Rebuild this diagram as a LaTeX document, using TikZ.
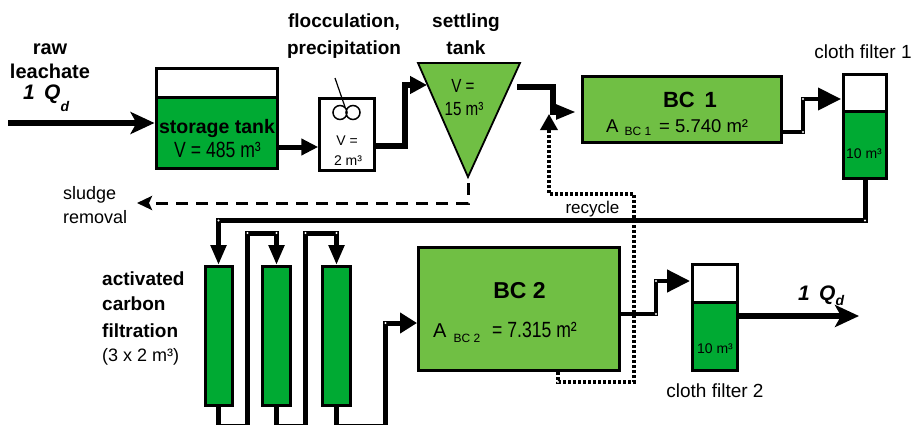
\documentclass[tikz,border=0pt]{standalone}
\usepackage{fontspec}
\setmainfont{Liberation Sans}
\newfontfamily\narrowf{Liberation Sans}[FakeStretch=0.8]
\usetikzlibrary{arrows.meta}
\definecolor{dgreen}{RGB}{0,170,51}
\definecolor{lgreen}{RGB}{112,191,68}
\newcommand{\fs}[1]{\fontsize{#1}{#1}\selectfont}
\begin{document}
\begin{tikzpicture}[x=1pt,y=-1pt,
  box/.style={draw, line width=3pt, inner sep=0pt},
  lbl/.style={inner sep=0pt, anchor=base},
  lblw/.style={inner sep=0pt, anchor=base west},
  pl/.style={line width=5.5pt},
  bigpipe/.style={line width=6pt, -{Stealth[length=24pt,width=22pt,inset=6pt]}},
  dotline/.style={line width=3.5pt, dash pattern=on 3pt off 2pt},
  jdot/.style={fill=white}]
\useasboundingbox (0,0) rectangle (912,425);

% ---------- boxes ----------
\node[box, fill=white, minimum width=121pt, minimum height=29pt] (storetop) at (216.5,83.5) {};
\node[box, fill=dgreen, minimum width=121pt, minimum height=70pt] (storebot) at (216.5,133) {};
\node[box, line width=2.5pt, fill=white, minimum width=55pt, minimum height=72pt] (floc) at (347,134.5) {};
\coordinate (settleTL) at (418,63);
\coordinate (settleTR) at (520,63);
\coordinate (settleB) at (468,177);
\coordinate (settleL) at (427,85);
\coordinate (settleR) at (517,87);
\draw[line width=1.8pt, fill=lgreen] (settleTL) -- (settleTR) -- (settleB) -- cycle;
\node[box, fill=lgreen, minimum width=199pt, minimum height=66pt] (bc1) at (682,109.5) {};
\node[box, fill=white, minimum width=43pt, minimum height=37.5pt] (cf1top) at (865,93.25) {};
\node[box, fill=dgreen, minimum width=43pt, minimum height=66.5pt] (cf1bot) at (865,145.25) {};
\node[box, fill=dgreen, minimum width=27pt, minimum height=139pt] (col1) at (218.5,336) {};
\node[box, fill=dgreen, minimum width=28pt, minimum height=139pt] (col2) at (276.5,336) {};
\node[box, fill=dgreen, minimum width=28pt, minimum height=139pt] (col3) at (336.5,336) {};
\node[box, fill=lgreen, minimum width=201pt, minimum height=123pt] (bc2) at (519,309) {};
\node[box, fill=white, minimum width=45pt, minimum height=37.5pt] (cf2top) at (715,283.25) {};
\node[box, fill=dgreen, minimum width=45pt, minimum height=68.5pt] (cf2bot) at (715,336.25) {};

% mixer
\coordinate (mixTop) at (335,78);
\coordinate (mixBot) at (345,107);
\draw[line width=1.2pt] (mixTop) -- (mixBot);
\draw[line width=1.5pt] (340,112.5) circle (7) (353,112.5) circle (7);

% ---------- connectors ----------
\coordinate (inStart) at (8,123);
\draw[bigpipe] (inStart) -- (inStart -| storebot.west);
\draw[line width=5pt, -{Triangle[length=17pt,width=16pt]}] (storebot.east |- 0,147) -- (floc.west |- 0,147);
\draw[pl, -{Triangle[length=17pt,width=17pt]}] (floc.east |- 0,146) -- (405,146) |- (settleL);
\draw[pl, -{Triangle[length=20pt,width=14pt]}, shorten >=5pt] (settleR) -- (553,87) |- (bc1.west |- 0,112);
\coordinate (cf1in) at (cf1top.west |- 0,99);
\draw[line width=4pt, -{Triangle[length=23pt,width=22pt]}, shorten >=1pt] (bc1.east |- 0,132) -- (803,132) |- (cf1in);
\draw[line width=5pt, -{Triangle[length=20pt,width=15pt]}] (cf1bot.south) -- (865,220.5) -| (col1.north);
\draw[line width=5pt, -{Triangle[length=20pt,width=15pt]}] (col1.south) -- (218.5,426) -| (247.5,233) -| (col2.north);
\draw[line width=5pt, -{Triangle[length=20pt,width=15pt]}] (col2.south) -- (276.5,426) -| (305.5,233) -| (col3.north);
\draw[line width=5pt, -{Triangle[length=17pt,width=20pt]}] (col3.south) -- (336.5,426) -| (385.5,323) -- (bc2.west |- 0,323);
\coordinate (cf2in) at (cf2top.west |- 0,281);
\draw[line width=4.5pt, -{Triangle[length=23pt,width=22pt]}, shorten >=1pt] (bc2.east |- 0,314) -- (656,314) |- (cf2in);
\coordinate (outEnd) at (859,316);
\draw[bigpipe] (cf2bot.east |- outEnd) -- (outEnd);
\coordinate (recyEnd) at (549,114);
\draw[dotline, -{Triangle[length=16pt,width=17pt]}] (bc2.south -| 558,0) -- (558,382) -| (634,194) -| (recyEnd);
\coordinate (sludgeEnd) at (137,203);
\draw[line width=3pt, dash pattern=on 12pt off 8pt, -{Stealth[length=15pt,width=14pt,inset=3pt]}, shorten <=6pt] (settleB) |- (sludgeEnd);

% elbow dots
\foreach \p in {(803,99),(803,132),(865,220.5),(218.5,220.5),(247.5,233),(276.5,233),(305.5,233),(336.5,233),(385.5,323),(656,281),(656,314),(634,194),(558,382)}
  \fill[jdot] \p circle (1.1);

% ---------- texts ----------
\node[lbl, font=\fs{20}\bfseries] (rawT) at (50,55) {raw};
\node[lbl, font=\fs{20}\bfseries] (leachT) at (50,79) {leachate};
\node[lblw, font=\fs{21}\bfseries\itshape] (qinT) at (23,100) {1\, Q\raisebox{-12pt}{\fs{14}d}};
\node[lbl, font=\fs{19}\bfseries] (flocT1) at (344,28) {flocculation,};
\node[lbl, font=\fs{19}\bfseries] (flocT2) at (344,55) {precipitation};
\node[lbl, font=\fs{19}\bfseries] (setT1) at (466,28) {settling};
\node[lbl, font=\fs{19}\bfseries] (setT2) at (466,55) {tank};
\node[lbl, font=\fs{19.5}\bfseries] (stT1) at (217,133) {storage tank};
\node[lbl, font=\narrowf\fs{22}] (stT2) at (217.5,157) {V = 485 m³};
\node[lbl, font=\fs{14}] (flT1) at (347,146) {V =};
\node[lbl, font=\fs{14}] (flT2) at (348,165) {2 m³};
\node[lbl, font=\narrowf\fs{19}] (seT1) at (463,93) {V =};
\node[lbl, font=\narrowf\fs{19}] (seT2) at (464,116) {15 m³};
\node[lbl, font=\fs{22}\bfseries] (bc1T) at (690,107) {BC\, 1};
\node[lblw, font=\fs{18.5}] (bc1A) at (606,132) {A\hspace{6pt}\raisebox{-3pt}{\fs{12}BC 1}\hspace{8pt}= 5.740 m²};
\node[lbl, font=\fs{23}\bfseries] (bc2T) at (519.5,298) {BC 2};
\node[lblw, font=\fs{20}] (bc2A) at (433,337) {A\hspace{7pt}\raisebox{-5pt}{\fs{12}BC 2}\hspace{12pt}{\narrowf\fs{22}= 7.315 m²}};
\node[lbl, font=\fs{14}] (cf1T) at (864,158) {10 m³};
\node[lbl, font=\fs{14}] (cf2T) at (715,353) {10 m³};
\node[lbl, font=\fs{19}] (cf1L) at (863,59) {cloth filter 1};
\node[lbl, font=\fs{19}] (cf2L) at (715,397) {cloth filter 2};
\node[lbl, font=\fs{17}] (recT) at (592.5,213) {recycle};
\node[lblw, font=\fs{18}] (slT1) at (63,199) {sludge};
\node[lblw, font=\fs{18}] (slT2) at (63,223) {removal};
\node[lblw, font=\fs{19}\bfseries] (acT1) at (102,285) {activated};
\node[lblw, font=\fs{19}\bfseries] (acT2) at (102,310) {carbon};
\node[lblw, font=\fs{19}\bfseries] (acT3) at (102,337) {filtration};
\node[lblw, font=\fs{18}] (acT4) at (102,361) {(3 x 2 m³)};
\node[lblw, font=\fs{21}\bfseries\itshape] (qoutT) at (798,300) {1\, Q\raisebox{-5pt}{\fs{14}d}};
\end{tikzpicture}
\end{document}
